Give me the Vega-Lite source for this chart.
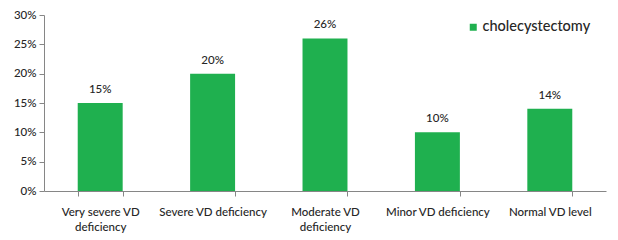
{
  "$schema": "https://vega.github.io/schema/vega-lite/v6.json",
  "width": 562,
  "height": 176,
  "autosize": {"type": "none"},
  "padding": {"left": 44, "top": 15, "right": 12, "bottom": 49},
  "background": "white",
  "config": {
    "font": "Lato",
    "view": {"stroke": null}
  },
  "data": {
    "values": [
      {"category": "Very severe VD deficiency", "value": 0.15, "series": "cholecystectomy"},
      {"category": "Severe VD deficiency", "value": 0.20, "series": "cholecystectomy"},
      {"category": "Moderate VD deficiency", "value": 0.26, "series": "cholecystectomy"},
      {"category": "Minor VD deficiency", "value": 0.10, "series": "cholecystectomy"},
      {"category": "Normal VD level", "value": 0.14, "series": "cholecystectomy"}
    ]
  },
  "encoding": {
    "x": {
      "field": "category",
      "type": "nominal",
      "sort": null,
      "scale": {"paddingInner": 0.6, "paddingOuter": 0.3},
      "axis": {
        "title": null,
        "labelAngle": 0,
        "labelFontSize": 11.5,
        "labelFontWeight": 500,
        "labelColor": "#262626",
        "labelPadding": 10,
        "labelLineHeight": 15,
        "labelExpr": "datum.value == 'Very severe VD deficiency' ? ['Very severe VD', 'deficiency'] : datum.value == 'Moderate VD deficiency' ? ['Moderate VD', 'deficiency'] : datum.value",
        "domainColor": "#868686",
        "tickColor": "#868686",
        "tickSize": 5,
        "tickBand": "extent",
        "grid": false
      }
    },
    "y": {
      "field": "value",
      "type": "quantitative",
      "scale": {"domain": [0, 0.3], "nice": false},
      "axis": {
        "title": null,
        "format": ".0%",
        "values": [0, 0.05, 0.1, 0.15, 0.2, 0.25, 0.3],
        "labelFontSize": 11.5,
        "labelFontWeight": 500,
        "labelColor": "#262626",
        "labelPadding": 3,
        "domainColor": "#868686",
        "tickColor": "#868686",
        "tickSize": 5,
        "grid": false
      }
    }
  },
  "layer": [
    {
      "mark": {"type": "bar"},
      "encoding": {
        "color": {
          "field": "series",
          "type": "nominal",
          "scale": {"range": ["#1fb04f"]},
          "legend": {
            "title": null,
            "orient": "none",
            "legendX": 422,
            "legendY": 5,
            "symbolType": "square",
            "symbolSize": 49,
            "labelFontSize": 14.5,
            "labelFontWeight": 500,
            "labelColor": "#262626",
            "labelOffset": 2
          }
        }
      }
    },
    {
      "mark": {"type": "text", "dy": -8, "fontSize": 11.5, "fontWeight": 500, "color": "#262626", "baseline": "bottom"},
      "encoding": {
        "text": {"field": "value", "type": "quantitative", "format": ".0%"}
      }
    }
  ]
}
